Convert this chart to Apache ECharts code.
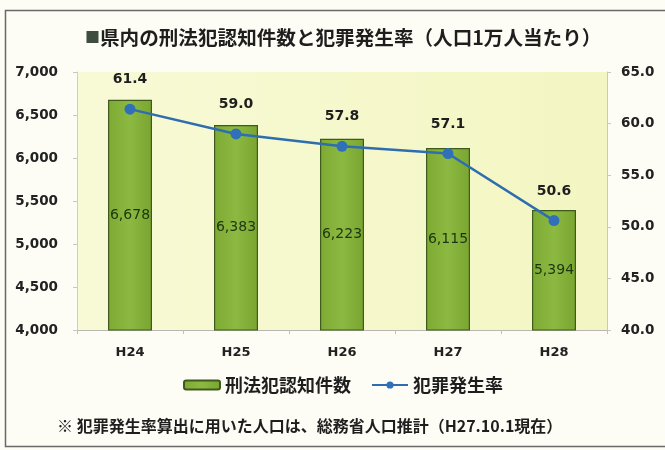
<!DOCTYPE html>
<html>
<head>
<meta charset="utf-8">
<script src="https://cdn.jsdelivr.net/npm/echarts@6/dist/echarts.min.js"></script>
<style>
  html, body { margin: 0; padding: 0; background: #fdfdf6; }
  #chart { width: 665px; height: 450px; }
</style>
</head>
<body>
<div id="chart"></div>
<script>
// 年度
const years = ['H24', 'H25', 'H26', 'H27', 'H28'];
// 刑法犯認知件数
const crimeCounts = [6678, 6383, 6223, 6115, 5394];
// 犯罪発生率（人口1万人当たり）
const crimeRates = [61.4, 59.0, 57.8, 57.1, 50.6];

const numFont = 'DejaVu Sans';
const jpFont = 'Noto Sans CJK JP';

const chart = echarts.init(document.getElementById('chart'), null, { renderer: 'canvas' });

chart.setOption({
  backgroundColor: '#fdfdf6',
  animation: false,
  graphic: [
    {
      type: 'rect',
      shape: { x: 5.5, y: 10.5, width: 670, height: 436 },
      style: { fill: 'none', stroke: '#6a6a6a', lineWidth: 1.5 },
      silent: true
    }
  ],
  title: {
    text: '{sq|■}{t|県内の刑法犯認知件数と犯罪発生率（人口1万人当たり）}',
    left: 80,
    top: 23,
    textStyle: {
      rich: {
        sq: { fontFamily: jpFont, fontSize: 15, color: '#3f4d40', fontWeight: 'bold' },
        t: { fontFamily: jpFont, fontSize: 19.6, color: '#1e1e1e', fontWeight: 'bold' }
      }
    }
  },
  legend: {
    left: 178,
    top: 371,
    itemWidth: 36,
    itemHeight: 9,
    itemGap: 20,
    textStyle: { fontFamily: jpFont, fontSize: 18, fontWeight: 'bold', color: '#1e1e1e' },
    data: [
      { name: '刑法犯認知件数', icon: 'roundRect' },
      { name: '犯罪発生率' }
    ]
  },
  grid: {
    left: 77, right: 58, top: 72, bottom: 120,
    show: true,
    borderWidth: 0,
    backgroundColor: new echarts.graphic.LinearGradient(0, 0, 1, 0, [
      { offset: 0, color: '#f8fad6' },
      { offset: 1, color: '#f3f6c2' }
    ])
  },
  xAxis: {
    type: 'category',
    data: years,
    axisLine: { lineStyle: { color: '#b8b8b0', width: 1 } },
    axisTick: { show: true, length: 4, lineStyle: { color: '#c0c0b8' } },
    axisLabel: { fontFamily: numFont, fontSize: 13, fontWeight: 'bold', color: '#222', margin: 16 }
  },
  yAxis: [
    {
      type: 'value',
      min: 4000, max: 7000, interval: 500,
      position: 'left',
      splitLine: { show: false },
      axisLine: { show: true, lineStyle: { color: '#cfd0c4' } },
      axisTick: { show: true, length: 4, lineStyle: { color: '#c8c8c0' } },
      axisLabel: {
        fontFamily: numFont, fontSize: 13.5, fontWeight: 'bold', color: '#222', margin: 19,
        formatter: v => v.toLocaleString('en-US')
      }
    },
    {
      type: 'value',
      min: 40, max: 65, interval: 5,
      position: 'right',
      splitLine: { show: false },
      axisLine: { show: true, lineStyle: { color: '#c8c8c0' } },
      axisTick: { show: true, length: 4, lineStyle: { color: '#c8c8c0' } },
      axisLabel: {
        fontFamily: numFont, fontSize: 13.5, fontWeight: 'bold', color: '#222', margin: 14,
        formatter: v => v.toFixed(1)
      }
    }
  ],
  series: [
    {
      name: '刑法犯認知件数',
      type: 'bar',
      yAxisIndex: 0,
      data: crimeCounts,
      barWidth: 44,
      itemStyle: {
        color: new echarts.graphic.LinearGradient(0, 0, 1, 0, [
          { offset: 0, color: '#7eaa34' },
          { offset: 0.5, color: '#8cb942' },
          { offset: 1, color: '#79a530' }
        ]),
        borderColor: '#3e5a1c',
        borderWidth: 1.2
      },
      label: {
        show: true,
        position: 'inside',
        fontFamily: numFont,
        fontSize: 14,
        color: '#1d3510',
        formatter: p => p.value.toLocaleString('en-US')
      }
    },
    {
      name: '犯罪発生率',
      type: 'line',
      yAxisIndex: 1,
      data: crimeRates,
      symbol: 'circle',
      symbolSize: 11,
      lineStyle: { color: '#2e6db0', width: 2.5 },
      itemStyle: { color: '#2f70b8' },
      label: {
        show: true,
        position: 'top',
        distance: 17,
        fontFamily: numFont,
        fontSize: 14,
        fontWeight: 'bold',
        color: '#1e1e1e',
        formatter: p => p.value.toFixed(1)
      },
      z: 5
    }
  ]
});
</script>
<div style="position:absolute;left:57px;top:413px;font-family:'Noto Sans CJK JP';font-size:16px;font-weight:bold;color:#1e1e1e;white-space:nowrap;">※ 犯罪発生率算出に用いた人口は、総務省人口推計（H27.10.1現在）</div>
</body>
</html>
